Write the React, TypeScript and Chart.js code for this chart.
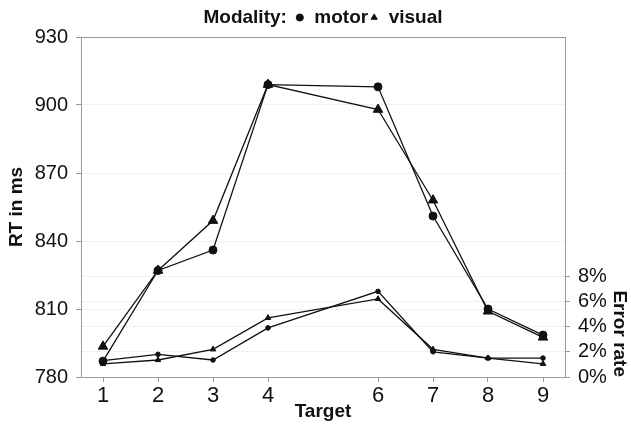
import React, { useEffect, useRef } from 'react';
import { Chart, registerables } from 'chart.js';

Chart.register(...registerables);

const TARGETS = [1, 2, 3, 4, 6, 7, 8, 9];
const RT_MOTOR = [787, 827, 836, 909, 908, 851, 810, 798.5];
const RT_VISUAL = [793.5, 827, 849, 909, 898, 858, 809, 797.5];
const ERR_MOTOR = [1.3, 1.8, 1.35, 3.9, 6.8, 2.0, 1.5, 1.5];
const ERR_VISUAL = [1.05, 1.35, 2.2, 4.7, 6.2, 2.2, 1.5, 1.05];
const RT_TICKS = [780, 810, 840, 870, 900, 930];
const ERR_TICKS = [0, 2, 4, 6, 8];
const SERIES_NAMES = ['motor', 'visual'];
const LEGEND_PREFIX = 'Modality:';
const X_TITLE = 'Target';
const Y_TITLE = 'RT in ms';
const Y2_TITLE = 'Error rate';

const FONT = "'Liberation Sans', Arial, Helvetica, sans-serif";
const AXIS_GREY = '#9a9a9a';
const GRID_FAINT = '#f1f1f1';
const INK = '#111111';
const LEGEND_SIZE = 19;
const PREFIX_GAP = 8;

const pts = (ys: number[]) => TARGETS.map((t, i) => ({ x: t, y: ys[i] }));

const framePlugin = {
  id: 'frameTop',
  afterDraw(chart: any) {
    const { ctx, chartArea } = chart;
    ctx.save();
    ctx.strokeStyle = AXIS_GREY;
    ctx.lineWidth = 1;
    ctx.beginPath();
    ctx.moveTo(chartArea.left, chartArea.top + 0.5);
    ctx.lineTo(chartArea.right, chartArea.top + 0.5);
    ctx.stroke();
    ctx.restore();
  },
};

const legendPrefixPlugin = {
  id: 'legendPrefix',
  afterLayout(chart: any) {
    const lg = chart.legend;
    if (!lg || !lg.lineWidths || !lg.lineWidths.length) return;
    const ctx = chart.ctx;
    ctx.save();
    ctx.font = `bold ${LEGEND_SIZE}px ${FONT}`;
    const w = ctx.measureText(LEGEND_PREFIX).width;
    ctx.restore();
    const pad = lg.options.labels.padding;
    const lineW = lg.lineWidths[0];
    const itemsW = lineW - pad;
    const center = (chart.chartArea.left + chart.chartArea.right) / 2;
    const groupW = w + PREFIX_GAP + itemsW;
    const desiredStart = center - groupW / 2 + w + PREFIX_GAP;
    const currentStart = (lg.left + pad + lg.right - lineW) / 2;
    const dx = desiredStart - currentStart;
    lg.left += dx;
    lg.right += dx;
  },
  afterDraw(chart: any) {
    const lg = chart.legend;
    if (!lg || !lg.legendHitBoxes || !lg.legendHitBoxes.length) return;
    const hb = lg.legendHitBoxes[0];
    const ctx = chart.ctx;
    ctx.save();
    ctx.font = `bold ${LEGEND_SIZE}px ${FONT}`;
    ctx.fillStyle = INK;
    ctx.textAlign = 'right';
    ctx.textBaseline = 'middle';
    ctx.fillText(LEGEND_PREFIX, hb.left - PREFIX_GAP, hb.top + LEGEND_SIZE / 2);
    ctx.restore();
  },
};

export default function App() {
  const ref = useRef<HTMLCanvasElement | null>(null);

  useEffect(() => {
    if (!ref.current) return;
    const lineBase = {
      borderColor: INK,
      backgroundColor: INK,
      pointBackgroundColor: INK,
      pointBorderColor: INK,
      borderWidth: 1.3,
      pointBorderWidth: 1,
      tension: 0,
      fill: false,
    };
    const chart = new Chart(ref.current, {
      type: 'line',
      data: {
        datasets: [
          { ...lineBase, label: SERIES_NAMES[0], data: pts(RT_MOTOR), yAxisID: 'y', pointStyle: 'circle', pointRadius: 4 },
          { ...lineBase, label: SERIES_NAMES[1], data: pts(RT_VISUAL), yAxisID: 'y', pointStyle: 'triangle', pointRadius: 5.5 },
          { ...lineBase, label: SERIES_NAMES[0] + ' error', data: pts(ERR_MOTOR), yAxisID: 'y1', pointStyle: 'circle', pointRadius: 2.3 },
          { ...lineBase, label: SERIES_NAMES[1] + ' error', data: pts(ERR_VISUAL), yAxisID: 'y1', pointStyle: 'triangle', pointRadius: 3.2 },
        ],
      },
      options: {
        animation: false,
        responsive: true,
        maintainAspectRatio: false,
        events: [],
        layout: { padding: { top: 7, left: 0, right: 0, bottom: 0 } },
        plugins: {
          tooltip: { enabled: false },
          legend: {
            display: true,
            position: 'top',
            labels: {
              filter: (item: any) => item.datasetIndex < 2,
              usePointStyle: true,
              boxWidth: 10,
              boxHeight: 5,
              padding: 1,
              color: INK,
              font: { family: FONT, size: LEGEND_SIZE, weight: 'bold' },
            },
          },
        },
        scales: {
          x: {
            type: 'linear',
            position: 'bottom',
            min: 0.6,
            max: 9.4,
            afterBuildTicks: (s: any) => {
              s.ticks = TARGETS.map((v) => ({ value: v }));
            },
            afterFit: (s: any) => {
              s.height = 48;
            },
            ticks: {
              color: INK,
              padding: 1,
              font: { family: FONT, size: 22 },
              callback: (v: any) => String(v),
              maxRotation: 0,
            },
            grid: { drawOnChartArea: false, drawTicks: true, tickLength: 5, tickColor: AXIS_GREY, color: GRID_FAINT },
            border: { color: AXIS_GREY, width: 1 },
            title: {
              display: true,
              text: X_TITLE,
              color: INK,
              font: { family: FONT, size: 19, weight: 'bold' },
              padding: { top: 0, bottom: 2 },
            },
          },
          y: {
            type: 'linear',
            position: 'left',
            min: 780,
            max: 930,
            afterBuildTicks: (s: any) => {
              s.ticks = RT_TICKS.map((v) => ({ value: v }));
            },
            afterFit: (s: any) => {
              s.width = 81;
            },
            ticks: { color: INK, padding: 8, font: { family: FONT, size: 20 } },
            grid: { color: GRID_FAINT, tickLength: 5, tickColor: AXIS_GREY },
            border: { color: AXIS_GREY, width: 1 },
            title: {
              display: true,
              text: Y_TITLE,
              color: INK,
              font: { family: FONT, size: 19, weight: 'bold' },
              padding: { top: 5, bottom: 0 },
            },
          },
          y1: {
            type: 'linear',
            position: 'right',
            min: 0,
            max: 27,
            afterBuildTicks: (s: any) => {
              s.ticks = ERR_TICKS.map((v) => ({ value: v }));
            },
            afterFit: (s: any) => {
              s.width = 66;
            },
            ticks: {
              color: INK,
              padding: 8,
              font: { family: FONT, size: 20 },
              callback: (v: any) => `${v}%`,
            },
            grid: { color: GRID_FAINT, tickLength: 5, tickColor: AXIS_GREY, drawOnChartArea: true },
            border: { color: AXIS_GREY, width: 1 },
            title: {
              display: true,
              text: Y2_TITLE,
              align: 'start',
              color: INK,
              font: { family: FONT, size: 19, weight: 'bold' },
              padding: { top: 0, bottom: 0 },
            },
          },
        },
      },
      plugins: [framePlugin, legendPrefixPlugin],
    } as any);
    return () => chart.destroy();
  }, []);

  return (
    <div style={{ position: 'absolute', left: 0, top: 0, width: 631, height: 425, background: '#ffffff' }}>
      <canvas ref={ref} />
    </div>
  );
}
